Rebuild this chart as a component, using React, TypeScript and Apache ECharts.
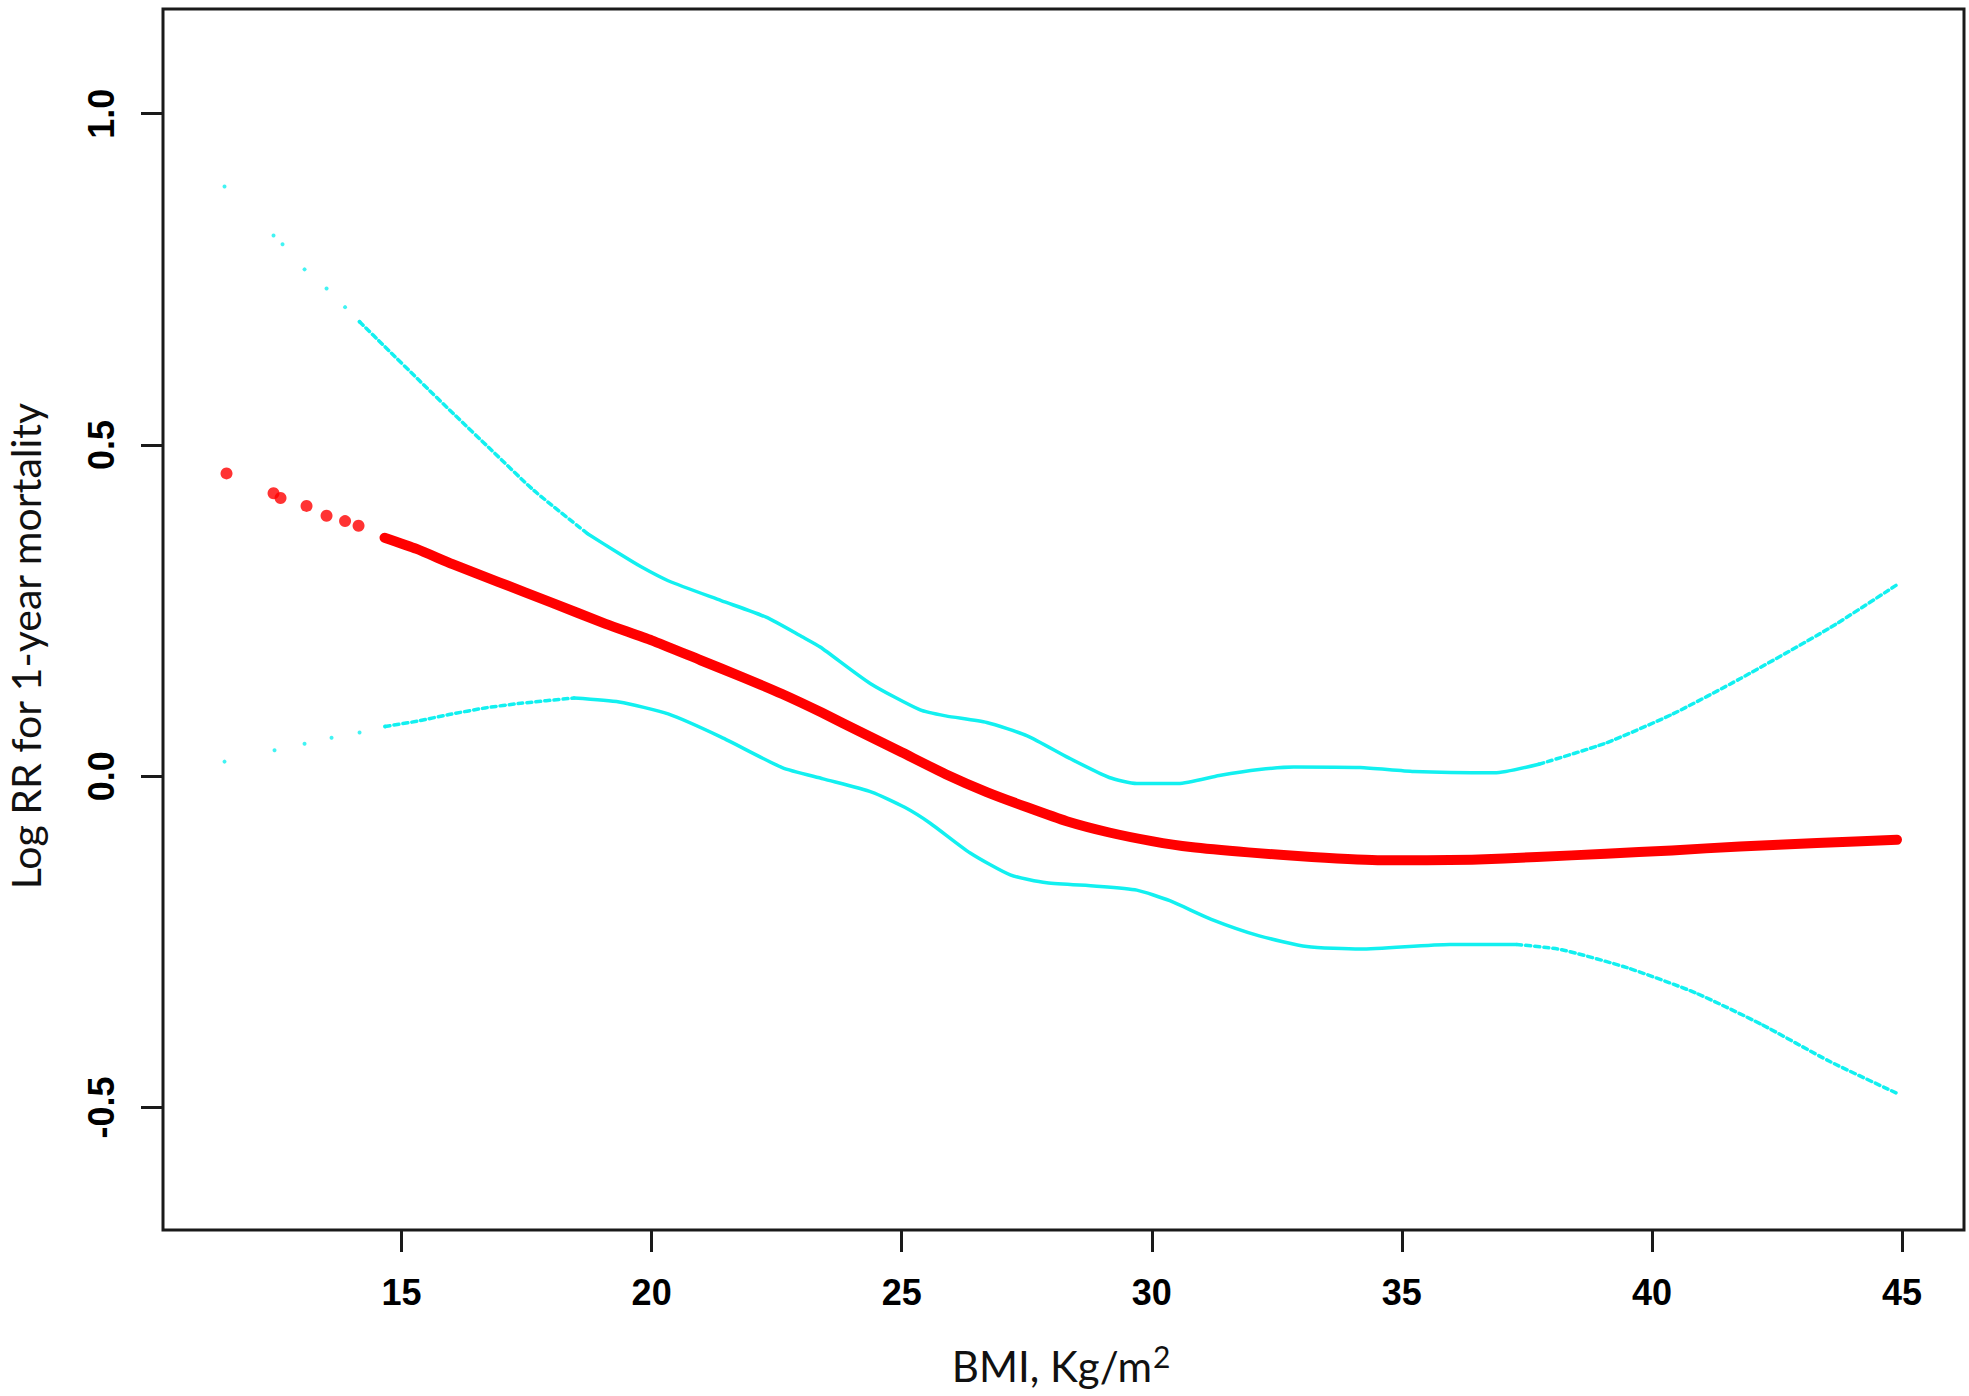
import React, { useEffect, useRef } from "react";
import * as echarts from "echarts";

// Tick labels
const xTicks = [15, 20, 25, 30, 35, 40, 45];
const yTicks = [-0.5, 0.0, 0.5, 1.0];

// Fitted Log RR curve (BMI, value)
const fitLogRR: [number, number][] = [
  [11.5, 0.457], [12.44, 0.427], [12.58, 0.42], [13.1, 0.408], [13.5, 0.393],
  [13.87, 0.385], [14.14, 0.378], [14.66, 0.36], [15.3, 0.343], [16.02, 0.32],
  [16.94, 0.293], [18.0, 0.262], [19.08, 0.23], [20.0, 0.205], [20.98, 0.175],
  [21.8, 0.15], [22.61, 0.124], [23.4, 0.096], [24.25, 0.064], [25.0, 0.036],
  [25.88, 0.003], [26.7, -0.024], [27.51, -0.047], [28.3, -0.068], [29.15, -0.085],
  [30.0, -0.098], [30.78, -0.107], [31.93, -0.115], [33.2, -0.122], [34.6, -0.127],
  [35.5, -0.127], [36.4, -0.126], [37.7, -0.122], [39.08, -0.117], [40.4, -0.112],
  [41.76, -0.106], [43.3, -0.101], [44.9, -0.096],
];

// Upper 95% CI
const upperCI: [number, number][] = [
  [11.46, 0.89], [12.44, 0.816], [12.62, 0.803], [13.06, 0.765], [13.5, 0.736],
  [13.87, 0.708], [14.16, 0.686], [14.67, 0.648], [15.37, 0.596], [16.08, 0.544],
  [16.8, 0.492], [17.65, 0.431], [18.72, 0.366], [19.35, 0.336], [19.79, 0.316],
  [20.33, 0.295], [21.39, 0.265], [22.29, 0.24], [23.02, 0.21], [23.37, 0.195],
  [24.37, 0.14], [25.37, 0.1], [25.88, 0.091], [26.7, 0.081], [27.51, 0.061],
  [28.33, 0.028], [29.15, -0.002], [29.7, -0.011], [30.53, -0.011], [31.35, 0.001],
  [32.15, 0.01], [32.84, 0.014], [34.17, 0.013], [35.24, 0.007], [36.85, 0.005],
  [37.74, 0.018], [39.08, 0.05], [40.42, 0.094], [41.76, 0.147], [43.54, 0.223],
  [44.88, 0.288],
];

// Lower 95% CI
const lowerCI: [number, number][] = [
  [11.46, 0.022], [12.46, 0.039], [13.06, 0.049], [13.6, 0.058], [14.16, 0.066],
  [14.67, 0.075], [15.31, 0.083], [15.95, 0.093], [16.67, 0.103], [17.38, 0.11],
  [18.45, 0.118], [19.35, 0.112], [20.33, 0.094], [21.39, 0.059], [22.61, 0.013],
  [23.43, -0.004], [24.4, -0.024], [25.06, -0.047], [25.57, -0.071], [26.37, -0.116],
  [27.17, -0.149], [27.9, -0.161], [28.9, -0.166], [29.7, -0.172], [30.36, -0.188],
  [31.19, -0.216], [32.15, -0.241], [33.1, -0.257], [34.17, -0.261], [35.96, -0.254],
  [37.3, -0.254], [38.2, -0.262], [39.5, -0.289], [40.87, -0.327], [42.2, -0.375],
  [43.54, -0.43], [44.88, -0.478],
];

const RED = "#ff0000";
const CYAN = "#12f0f0";
const AXIS = "#1a1a1a";

const inRange = (d: [number, number][], lo: number, hi: number) =>
  d.filter((p) => p[0] >= lo && p[0] <= hi);

export default function App() {
  const ref = useRef<HTMLDivElement>(null);

  useEffect(() => {
    if (!ref.current) return;
    const chart = echarts.init(ref.current, undefined, { renderer: "svg" });

    const cyanLine = (data: [number, number][], dashed: boolean) => ({
      type: "line",
      data,
      showSymbol: false,
      smooth: 0.2,
      lineStyle: {
        color: CYAN,
        width: 3.5,
        type: dashed ? [5, 4] : "solid",
        cap: "round",
        join: "round",
      },
      silent: true,
      z: 2,
    });
    const cyanDots = (data: [number, number][]) => ({
      type: "scatter",
      data,
      symbol: "circle",
      symbolSize: 4,
      itemStyle: { color: CYAN },
      silent: true,
      z: 2,
    });

    chart.setOption({
      animation: false,
      backgroundColor: "#ffffff",
      grid: {
        left: 163,
        right: 5,
        top: 9,
        bottom: 166,
        show: true,
        borderColor: AXIS,
        borderWidth: 3,
        backgroundColor: "transparent",
      },
      xAxis: {
        type: "value",
        min: 10.23,
        max: 46.24,
        splitLine: { show: false },
        axisLine: { show: false, onZero: false },
        axisTick: {
          show: true,
          length: 22,
          lineStyle: { color: AXIS, width: 3 },
          customValues: xTicks,
        },
        axisLabel: {
          show: true,
          customValues: xTicks,
          margin: 44,
          color: "#000",
          fontFamily: "Liberation Sans, Arial, sans-serif",
          fontWeight: "bold",
          fontSize: 36,
          formatter: (v: number) => String(v),
        },
      },
      yAxis: {
        type: "value",
        min: -0.685,
        max: 1.158,
        splitLine: { show: false },
        axisLine: { show: false, onZero: false },
        axisTick: {
          show: true,
          length: 22,
          lineStyle: { color: AXIS, width: 3 },
          customValues: yTicks,
        },
        axisLabel: {
          show: true,
          customValues: yTicks,
          rotate: 90,
          margin: 44,
          color: "#000",
          fontFamily: "Liberation Sans, Arial, sans-serif",
          fontWeight: "bold",
          fontSize: 36,
          formatter: (v: number) => v.toFixed(1),
        },
      },
      series: [
        {
          type: "scatter",
          data: inRange(fitLogRR, 0, 14.2),
          symbol: "circle",
          symbolSize: 12,
          itemStyle: { color: RED },
          silent: true,
          z: 3,
        },
        {
          type: "line",
          data: inRange(fitLogRR, 14.6, 50),
          showSymbol: false,
          smooth: 0.2,
          lineStyle: { color: RED, width: 10, cap: "round", join: "round" },
          silent: true,
          z: 3,
        },
        cyanDots(inRange(upperCI, 0, 14.2)),
        cyanLine(inRange(upperCI, 14.16, 18.72), true),
        cyanLine(inRange(upperCI, 18.72, 37.74), false),
        cyanLine(inRange(upperCI, 37.74, 50), true),
        cyanDots(inRange(lowerCI, 0, 14.7)),
        cyanLine(inRange(lowerCI, 14.67, 18.45), true),
        cyanLine(inRange(lowerCI, 18.45, 37.3), false),
        cyanLine(inRange(lowerCI, 37.3, 50), true),
      ],
      graphic: [
        {
          type: "text",
          x: 1152,
          y: 1366,
          style: {
            text: "BMI, Kg/m",
            textAlign: "right",
            textVerticalAlign: "middle",
            fontFamily: "Lato, sans-serif",
            fontSize: 42,
            fill: "#111",
          },
        },
        {
          type: "text",
          x: 1153,
          y: 1356,
          style: {
            text: "2",
            textAlign: "left",
            textVerticalAlign: "middle",
            fontFamily: "Lato, sans-serif",
            fontSize: 30,
            fill: "#111",
          },
        },
        {
          type: "text",
          x: 25,
          y: 646,
          rotation: Math.PI / 2,
          style: {
            text: "Log RR for 1-year mortality",
            textAlign: "center",
            textVerticalAlign: "middle",
            fontFamily: "Lato, sans-serif",
            fontSize: 41,
            fill: "#111",
          },
        },
      ],
    });

    return () => chart.dispose();
  }, []);

  return (
    <div
      ref={ref}
      style={{
        position: "absolute",
        left: 0,
        top: 0,
        width: 1969,
        height: 1396,
        background: "#fff",
      }}
    />
  );
}
